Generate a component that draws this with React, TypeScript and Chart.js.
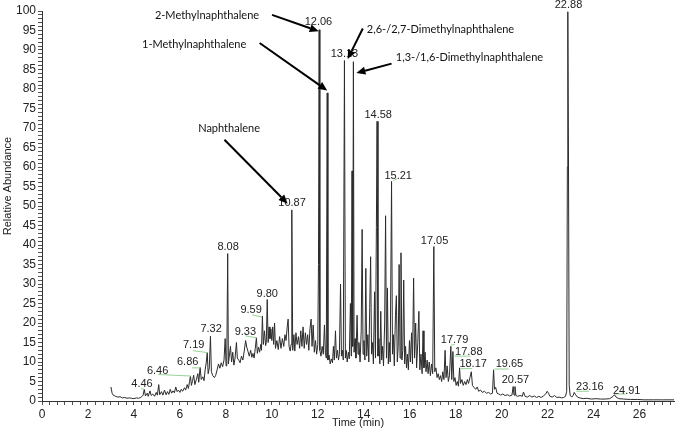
import React, { useEffect, useRef } from "react";
import { Chart, registerables } from "chart.js";

Chart.register(...registerables);

// Retention time (min)
const times: number[] = [
  3.00, 3.05, 3.10, 3.20, 3.30, 3.40, 3.50, 3.60, 3.70, 3.80, 3.90, 4.00, 4.10, 4.20, 4.30, 4.40, 4.45, 4.50,
  4.58, 4.62, 4.70, 4.75, 4.82, 4.90, 4.97, 5.02, 5.08, 5.12, 5.20, 5.26, 5.33, 5.40, 5.46, 5.52, 5.58, 5.64,
  5.70, 5.76, 5.82, 5.88, 5.94, 6.00, 6.06, 6.12, 6.20, 6.25, 6.32, 6.37, 6.42, 6.46, 6.50, 6.55, 6.60, 6.65,
  6.72, 6.78, 6.82, 6.88, 6.93, 7.00, 7.05, 7.10, 7.15, 7.19, 7.23, 7.28, 7.33, 7.37, 7.43, 7.50, 7.56, 7.62,
  7.68, 7.74, 7.80, 7.86, 7.92, 7.97, 8.01, 8.04, 8.08, 8.11, 8.15, 8.20, 8.25, 8.30, 8.35, 8.40, 8.46, 8.50,
  8.56, 8.62, 8.68, 8.74, 8.80, 8.86, 8.91, 8.96, 9.02, 9.08, 9.13, 9.18, 9.23, 9.28, 9.33, 9.37, 9.42, 9.47,
  9.52, 9.55, 9.59, 9.63, 9.68, 9.73, 9.76, 9.80, 9.84, 9.88, 9.92, 9.96, 10.00, 10.04, 10.08, 10.12, 10.16,
  10.22, 10.28, 10.34, 10.40, 10.46, 10.52, 10.57, 10.62, 10.67, 10.71, 10.75, 10.80, 10.84, 10.87, 10.91,
  10.96, 11.00, 11.05, 11.10, 11.16, 11.21, 11.26, 11.31, 11.36, 11.41, 11.46, 11.51, 11.56, 11.61, 11.66,
  11.71, 11.75, 11.80, 11.85, 11.90, 11.95, 12.00, 12.03, 12.06, 12.09, 12.14, 12.19, 12.24, 12.29, 12.33,
  12.37, 12.41, 12.44, 12.49, 12.54, 12.59, 12.64, 12.68, 12.72, 12.77, 12.81, 12.86, 12.90, 12.94, 12.99,
  13.03, 13.07, 13.11, 13.16, 13.20, 13.24, 13.28, 13.33, 13.37, 13.42, 13.46, 13.49, 13.52, 13.55, 13.58,
  13.62, 13.66, 13.71, 13.75, 13.79, 13.84, 13.89, 13.93, 13.97, 14.01, 14.05, 14.09, 14.13, 14.18, 14.22,
  14.26, 14.30, 14.34, 14.38, 14.42, 14.47, 14.51, 14.55, 14.58, 14.62, 14.66, 14.70, 14.74, 14.78, 14.82,
  14.86, 14.91, 14.95, 14.99, 15.03, 15.07, 15.11, 15.15, 15.21, 15.25, 15.29, 15.33, 15.38, 15.42, 15.46,
  15.50, 15.54, 15.58, 15.62, 15.66, 15.70, 15.74, 15.78, 15.82, 15.86, 15.90, 15.94, 15.99, 16.03, 16.08,
  16.12, 16.17, 16.21, 16.26, 16.30, 16.35, 16.40, 16.44, 16.49, 16.54, 16.58, 16.62, 16.67, 16.71, 16.76,
  16.80, 16.85, 16.90, 16.95, 17.00, 17.05, 17.09, 17.14, 17.19, 17.24, 17.29, 17.34, 17.39, 17.44, 17.49,
  17.54, 17.58, 17.63, 17.68, 17.73, 17.79, 17.83, 17.88, 17.92, 17.97, 18.02, 18.07, 18.12, 18.17, 18.21,
  18.27, 18.33, 18.39, 18.45, 18.51, 18.56, 18.62, 18.68, 18.73, 18.80, 18.87, 18.94, 19.00, 19.08, 19.16,
  19.25, 19.34, 19.43, 19.52, 19.60, 19.65, 19.69, 19.74, 19.80, 19.88, 19.96, 20.05, 20.15, 20.25, 20.35,
  20.45, 20.50, 20.54, 20.58, 20.62, 20.70, 20.80, 20.90, 20.95, 21.02, 21.12, 21.22, 21.32, 21.42, 21.52,
  21.62, 21.72, 21.82, 21.92, 21.98, 22.04, 22.10, 22.20, 22.30, 22.40, 22.50, 22.60, 22.70, 22.78, 22.83,
  22.86, 22.88, 22.91, 22.94, 22.98, 23.05, 23.12, 23.16, 23.22, 23.30, 23.40, 23.55, 23.70, 23.90, 24.10,
  24.30, 24.50, 24.70, 24.85, 24.91, 24.98, 25.10, 25.30, 25.60, 25.90, 26.20, 26.60, 27.00, 27.50,
];

// Relative abundance (%)
const abundance: number[] = [
  3.6, 2.0, 1.5, 1.2, 1.0, 1.1, 0.8, 0.9, 0.7, 0.8, 0.7, 0.6, 0.8, 0.7, 0.9, 1.5, 3.0, 1.3,
  2.0, 1.2, 2.6, 1.4, 1.8, 1.2, 2.2, 1.5, 4.2, 1.6, 2.4, 1.5, 2.8, 1.6, 2.4, 1.7, 3.0, 2.0,
  2.6, 2.1, 3.6, 2.4, 2.8, 2.2, 3.0, 2.5, 3.4, 2.8, 4.2, 3.2, 5.0, 6.4, 4.0, 5.2, 6.6, 4.2,
  5.6, 7.0, 4.8, 8.6, 5.5, 6.2, 5.2, 8.0, 10.0, 12.4, 7.0, 8.5, 16.6, 7.5, 6.5, 6.0, 6.6, 8.0,
  9.5, 8.4, 9.8, 8.8, 10.5, 16.0, 9.0, 10.0, 37.8, 9.5, 11.5, 14.0, 10.0, 12.5, 9.2, 11.0, 15.0, 11.0,
  10.5, 9.8, 11.5, 10.5, 12.8, 15.5, 13.8, 12.8, 11.5, 13.0, 11.2, 12.2, 11.0, 13.5, 16.2, 12.2, 13.8, 12.5,
  14.5, 13.0, 21.8, 14.5, 18.0, 14.2, 15.0, 26.0, 15.0, 19.0, 16.0, 18.5, 15.5, 19.0, 14.5, 20.0, 13.5,
  15.5, 13.2, 16.5, 13.5, 16.0, 14.0, 17.0, 15.5, 19.0, 21.0, 14.0, 12.8, 14.5, 49.0, 13.0,
  17.0, 12.8, 17.5, 14.5, 16.5, 13.5, 18.0, 14.0, 19.0, 13.5, 17.5, 14.5, 17.0, 13.0, 18.5,
  21.0, 14.0, 19.5, 12.5, 15.5, 12.0, 14.5, 35.0, 95.2, 13.0, 11.5, 14.0, 12.0, 19.5, 12.5,
  11.0, 79.0, 10.5, 11.8, 9.5, 10.8, 9.8, 14.0, 10.5, 18.0, 11.0, 13.0, 10.5, 12.0, 30.0,
  11.5, 13.0, 10.5, 87.3, 11.0, 13.0, 10.0, 12.5, 10.8, 25.0, 11.5, 59.0, 14.0, 87.0, 12.5,
  16.0, 11.0, 22.0, 12.0, 15.0, 10.0, 18.0, 44.0, 12.0, 15.5, 10.5, 34.0, 11.5, 17.0, 10.0,
  24.0, 37.0, 12.0, 15.0, 9.5, 28.0, 11.0, 44.5, 71.7, 11.5, 16.0, 9.5, 23.0, 10.5, 14.0,
  9.0, 20.0, 47.5, 11.0, 29.0, 9.5, 15.0, 10.0, 56.3, 12.0, 17.0, 9.0, 22.0, 27.0, 10.0,
  14.0, 35.0, 11.0, 38.0, 10.5, 13.0, 31.0, 9.5, 14.0, 8.5, 12.0, 8.0, 15.5, 10.0, 17.5,
  9.5, 31.5, 11.0, 20.0, 8.5, 15.0, 23.0, 8.0, 12.0, 7.0, 18.0, 8.5, 12.5, 7.5, 10.5,
  7.0, 10.0, 6.5, 9.5, 7.0, 39.6, 7.5, 8.5, 6.0, 7.0, 5.5, 6.5, 5.0, 7.5, 5.5,
  13.0, 6.0, 9.0, 5.0, 6.5, 14.0, 5.5, 12.7, 5.0, 6.0, 4.0, 5.0, 3.8, 8.5, 4.5,
  5.5, 4.0, 5.0, 4.2, 5.5, 4.5, 6.0, 7.5, 4.0, 3.5, 3.0, 3.6, 2.5, 2.8, 2.2,
  2.5, 2.0, 2.2, 1.8, 2.0, 8.0, 3.0, 3.5, 2.0, 1.8, 1.5, 1.8, 1.4, 1.6, 1.3,
  1.5, 3.7, 1.5, 3.7, 1.4, 1.2, 1.4, 1.2, 2.3, 1.2, 1.0, 1.4, 1.0, 1.3, 0.9,
  1.2, 0.9, 1.3, 1.8, 2.5, 2.0, 1.2, 1.0, 1.4, 0.9, 1.0, 0.8, 0.9, 1.2, 2.5,
  60.0, 99.8, 60.0, 4.0, 1.5, 1.0, 1.5, 2.2, 1.6, 1.0, 0.8, 0.6, 0.7, 0.5, 0.6,
  0.5, 0.5, 0.6, 1.2, 1.6, 1.0, 0.6, 0.5, 0.4, 0.4, 0.3, 0.3, 0.3, 0.3,
];

// Peak retention-time labels: text, anchor time, anchor abundance (text centre)
const peakLabelText: string[] = [
  "4.46", "6.46", "6.86", "7.19", "7.32", "8.08", "9.33", "9.59", "9.80", "10.87", "12.06", "13.13",
  "14.58", "15.21", "17.05", "17.79", "17.88", "18.17", "19.65", "20.57", "22.88", "23.16", "24.91",
];
const peakLabelT: number[] = [
  4.35, 5.03, 6.34, 6.60, 7.36, 8.10, 8.85, 9.10, 9.80, 10.88, 12.03, 13.16,
  14.63, 15.50, 17.08, 17.95, 18.57, 18.76, 20.34, 20.60, 22.91, 23.84, 25.44,
];
const peakLabelA: number[] = [
  4.4, 7.8, 9.9, 14.3, 18.5, 39.4, 17.8, 23.4, 27.5, 50.9, 97.3, 89.0,
  73.4, 57.8, 41.1, 15.7, 12.6, 9.5, 9.5, 5.5, 101.6, 3.7, 2.7,
];

// Green leader lines from labels to peaks: [t1, a1, t2, a2]
const leaderLines: number[][] = [
  [4.30, 3.2, 4.45, 3.0],
  [5.06, 6.8, 6.49, 6.4],
  [6.53, 8.5, 6.89, 8.5],
  [6.57, 12.9, 7.21, 12.4],
  [8.85, 16.7, 9.33, 16.2],
  [9.14, 22.1, 9.58, 21.5],
  [15.29, 56.5, 15.45, 57.0],
  [17.80, 14.3, 17.95, 14.5],
  [17.95, 11.5, 18.65, 11.5],
  [18.21, 8.3, 18.72, 8.3],
  [19.69, 8.2, 20.31, 8.2],
  [23.25, 2.5, 23.80, 2.5],
  [24.92, 1.8, 25.40, 1.8],
];

// Compound names with arrows
const compoundNames: string[] = [
  "2-Methylnaphthalene",
  "1-Methylnaphthalene",
  "Naphthalene",
  "2,6-/2,7-Dimethylnaphthalene",
  "1,3-/1,6-Dimethylnaphthalene",
];
const compoundT: number[] = [7.18, 6.62, 8.14, 17.34, 18.60];
const compoundA: number[] = [98.8, 91.5, 69.8, 95.2, 88.1];
// Arrow from (t1,a1) to tip (t2,a2)
const arrowLines: number[][] = [
  [10.01, 99.0, 12.04, 94.8],
  [9.47, 91.8, 12.41, 79.6],
  [7.94, 67.0, 10.69, 50.6],
  [13.96, 95.5, 13.30, 87.7],
  [15.21, 86.5, 13.68, 84.1],
];

const xMajorLabels: number[] = [0, 2, 4, 6, 8, 10, 12, 14, 16, 18, 20, 22, 24, 26];
const yMajorLabels: number[] = [0, 5, 10, 15, 20, 25, 30, 35, 40, 45, 50, 55, 60, 65, 70, 75, 80, 85, 90, 95, 100];

const annotationPlugin = {
  id: "chromAnnotations",
  afterDraw(chart: any) {
    const ctx = chart.ctx as CanvasRenderingContext2D;
    const xs = chart.scales.x;
    const ys = chart.scales.y;
    const px = (t: number) => xs.getPixelForValue(t);
    const py = (a: number) => ys.getPixelForValue(a);
    ctx.save();

    // leader lines
    ctx.strokeStyle = "#97d197";
    ctx.lineWidth = 1;
    leaderLines.forEach(([t1, a1, t2, a2]) => {
      ctx.beginPath();
      ctx.moveTo(px(t1), py(a1));
      ctx.lineTo(px(t2), py(a2));
      ctx.stroke();
    });

    // peak labels
    ctx.fillStyle = "#222";
    ctx.font = '11px "Liberation Sans", Arial, sans-serif';
    ctx.textAlign = "center";
    ctx.textBaseline = "middle";
    peakLabelText.forEach((s, i) => {
      ctx.fillText(s, px(peakLabelT[i]), py(peakLabelA[i]));
    });

    // compound names
    ctx.fillStyle = "#111";
    ctx.font = '11px Lato, "Open Sans", sans-serif';
    compoundNames.forEach((s, i) => {
      ctx.fillText(s, px(compoundT[i]), py(compoundA[i]));
    });

    // arrows
    ctx.strokeStyle = "#000";
    ctx.fillStyle = "#000";
    ctx.lineWidth = 2;
    arrowLines.forEach(([t1, a1, t2, a2]) => {
      const x1 = px(t1), y1 = py(a1), x2 = px(t2), y2 = py(a2);
      const ang = Math.atan2(y2 - y1, x2 - x1);
      const head = 9, hw = 4;
      const bx = x2 - head * Math.cos(ang), by = y2 - head * Math.sin(ang);
      ctx.beginPath();
      ctx.moveTo(x1, y1);
      ctx.lineTo(bx, by);
      ctx.stroke();
      ctx.beginPath();
      ctx.moveTo(x2, y2);
      ctx.lineTo(bx + hw * Math.sin(ang), by - hw * Math.cos(ang));
      ctx.lineTo(bx - hw * Math.sin(ang), by + hw * Math.cos(ang));
      ctx.closePath();
      ctx.fill();
    });

    // y axis title
    ctx.save();
    ctx.translate(8, 186);
    ctx.rotate(-Math.PI / 2);
    ctx.fillStyle = "#222";
    ctx.font = '11px "Liberation Sans", Arial, sans-serif';
    ctx.textAlign = "center";
    ctx.textBaseline = "middle";
    ctx.fillText("Relative Abundance", 0, 0);
    ctx.restore();

    ctx.restore();
  },
};

export default function App() {
  const canvasRef = useRef<HTMLCanvasElement | null>(null);

  useEffect(() => {
    document.body.style.margin = "0";
    const canvas = canvasRef.current;
    if (!canvas) return;
    const points = times.map((t, i) => ({ x: t, y: abundance[i] }));
    const xTickVals: number[] = [];
    for (let i = 0; i <= 82; i++) xTickVals.push(i / 3);
    const yTickVals: number[] = [];
    for (let i = 0; i <= 100; i++) yTickVals.push(i);

    const chart = new Chart(canvas, {
      type: "scatter",
      data: {
        datasets: [
          {
            data: points,
            showLine: true,
            borderColor: "#2b2b2b",
            borderWidth: 1,
            pointRadius: 0,
            tension: 0,
          } as any,
        ],
      },
      options: {
        animation: false,
        responsive: false,
        maintainAspectRatio: false,
        layout: { padding: { top: 11, right: 1, left: 0, bottom: 0 } },
        plugins: { legend: { display: false }, tooltip: { enabled: false } },
        scales: {
          x: {
            type: "linear",
            min: 0,
            max: 27.5,
            afterBuildTicks: (s: any) => {
              s.ticks = xTickVals.map((v) => ({ value: v }));
            },
            afterFit: (s: any) => {
              s.height = 31;
            },
            ticks: {
              autoSkip: false,
              maxRotation: 0,
              padding: 2,
              color: "#222",
              font: { family: '"Liberation Sans", Arial, sans-serif', size: 12 },
              callback: (v: any) => {
                const n = Number(v);
                const r = Math.round(n);
                return Math.abs(n - r) < 1e-6 && xMajorLabels.includes(r) ? String(r) : "";
              },
            },
            grid: { drawOnChartArea: false, drawTicks: true, tickLength: 4, color: "#555" },
            border: { color: "#333", width: 1 },
            title: {
              display: true,
              text: "Time (min)",
              color: "#222",
              font: { family: '"Liberation Sans", Arial, sans-serif', size: 11 },
              padding: { top: 0, bottom: 2 },
            },
          },
          y: {
            type: "linear",
            min: 0,
            max: 100,
            afterBuildTicks: (s: any) => {
              s.ticks = yTickVals.map((v) => ({ value: v }));
            },
            afterFit: (s: any) => {
              s.width = 42;
            },
            ticks: {
              autoSkip: false,
              padding: 2,
              color: "#222",
              font: { family: '"Liberation Sans", Arial, sans-serif', size: 12 },
              callback: (v: any) => {
                const n = Math.round(Number(v));
                return yMajorLabels.includes(n) ? String(n) : "";
              },
            },
            grid: { drawOnChartArea: false, drawTicks: true, tickLength: 4, color: "#555" },
            border: { color: "#333", width: 1 },
          },
        },
      },
      plugins: [annotationPlugin],
    });
    return () => chart.destroy();
  }, []);

  return (
    <div style={{ width: 675, height: 432 }}>
      <canvas ref={canvasRef} width={675} height={432} style={{ display: "block", width: 675, height: 432 }} />
    </div>
  );
}
